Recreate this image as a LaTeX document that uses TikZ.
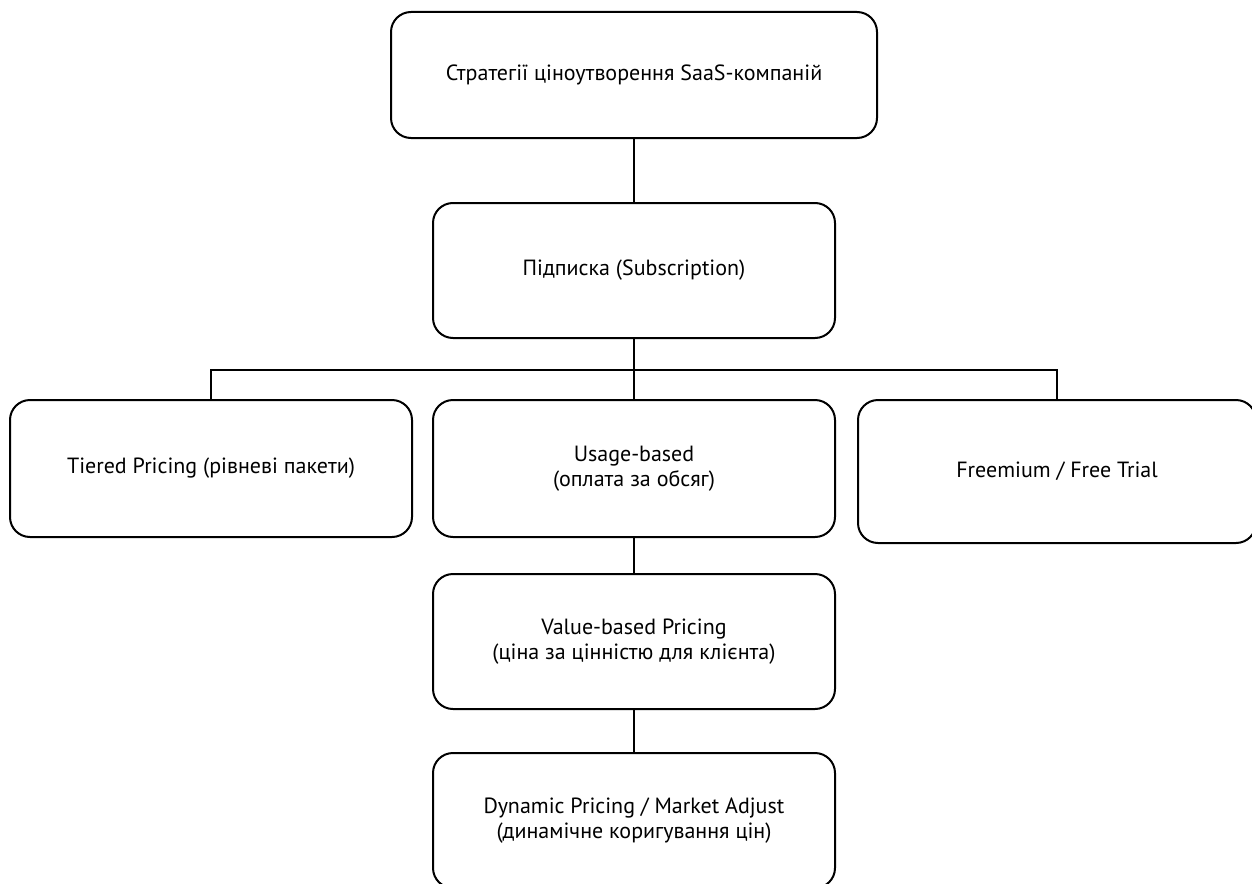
\documentclass[tikz,border=0pt]{standalone}
\usepackage{fontspec}
\setmainfont{PT Sans}
\begin{document}
\begin{tikzpicture}[x=1pt,y=-1pt,
  box/.style={draw, line width=2pt, rounded corners=20pt, align=center,
    font=\fontsize{22}{24.5}\selectfont, inner sep=0pt},
  link/.style={line width=2pt}]
\useasboundingbox (0,0) rectangle (1252,883);
\clip (0,0) rectangle (1252,883);
\node[box, minimum width=486pt, minimum height=126pt] (top) at (634,75) {Стратегії ціноутворення SaaS-компаній};
\node[box, minimum width=402pt, minimum height=135pt] (sub) at (634,270.5) {Підписка (Subscription)};
\node[box, minimum width=402pt, minimum height=137pt] (tier) at (211,468.5) {Tiered Pricing (рівневі пакети)};
\node[box, minimum width=402pt, minimum height=137pt] (usage) at (634,468.5) {Usage-based\\(оплата за обсяг)};
\node[box, minimum width=398pt, minimum height=143pt] (free) at (1057,471.5) {Freemium / Free Trial};
\node[box, minimum width=402pt, minimum height=135pt] (value) at (634,641.5) {Value-based Pricing\\(ціна за цінністю для клієнта)};
\node[box, minimum width=402pt, minimum height=135pt] (dyn) at (634,820.5) {Dynamic Pricing / Market Adjust\\(динамічне коригування цін)};
\coordinate (bar) at (634,370);
\draw[link] (top.south) -- (sub.north);
\draw[link] (sub.south) -- (bar);
\draw[link] (bar) -| (tier.north);
\draw[link] (bar) -| (free.north);
\draw[link] (bar) -- (usage.north);
\draw[link] (usage.south) -- (value.north);
\draw[link] (value.south) -- (dyn.north);
\end{tikzpicture}
\end{document}
